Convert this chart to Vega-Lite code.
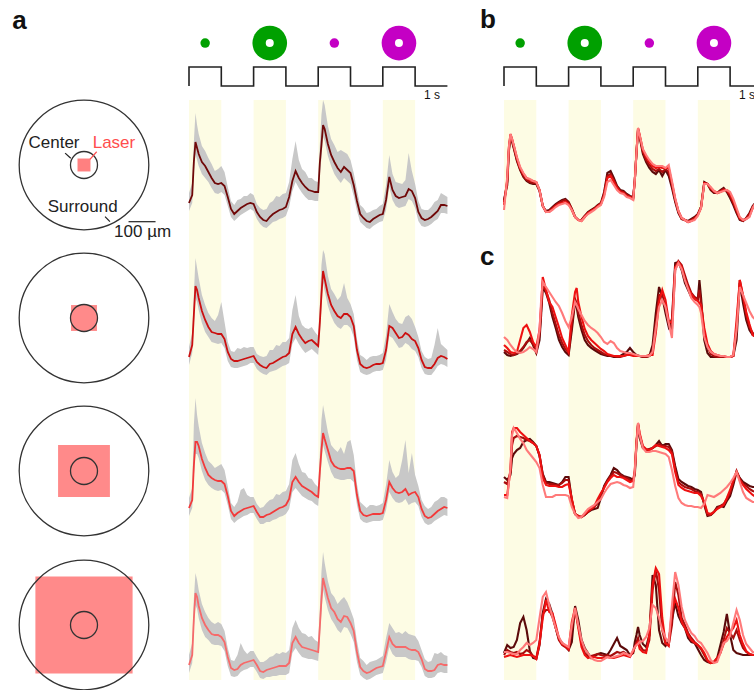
{
"$schema":"https://vega.github.io/schema/vega-lite/v6.json",
"padding":0,
"config":{"view":{"stroke":null},"axis":{"disable":true},"legend":{"disable":true},"font":"Liberation Sans"},
"datasets":{
"bands":[{"t":0,"t2":1},{"t":2,"t2":3},{"t":4,"t2":5},{"t":6,"t2":7}],
"step":[{"i":0,"t":0,"s":0},{"i":1,"t":0,"s":1},{"i":2,"t":1,"s":0},{"i":3,"t":2,"s":1},{"i":4,"t":3,"s":0},{"i":5,"t":4,"s":1},{"i":6,"t":5,"s":0},{"i":7,"t":6,"s":1},{"i":8,"t":7,"s":0},{"i":9,"t":8,"s":0}],
"icons":[{"t":0.5,"led":"Green","stim":"spot"},{"t":2.5,"led":"Green","stim":"annulus"},{"t":4.5,"led":"UV","stim":"spot"},{"t":6.5,"led":"UV","stim":"annulus"}],
"rings":[{"row":1,"part":"surround","um":480},{"row":1,"part":"center","um":100},{"row":2,"part":"surround","um":480},{"row":2,"part":"center","um":100},{"row":3,"part":"surround","um":480},{"row":3,"part":"center","um":100},{"row":4,"part":"surround","um":480},{"row":4,"part":"center","um":100}],
"laser":[{"row":1,"um":48},{"row":2,"um":96},{"row":3,"um":192},{"row":4,"um":360}],
"notes":[{"text":"Center","x":-111,"y":63,"kind":"label"},{"text":"Laser","x":111,"y":63,"kind":"laser"},{"text":"Surround","x":-5,"y":-173,"kind":"label"},{"text":"100 µm","x":217,"y":-268,"kind":"label"}],
"leaders":[{"x":-70,"y":44,"x2":-49,"y2":25,"kind":"label"},{"x":47,"y":49,"x2":22,"y2":21,"kind":"laser"},{"x":78,"y":-191,"x2":96,"y2":-210,"kind":"label"},{"x":165,"y":-210,"x2":265,"y2":-210,"kind":"label"}],
"pa":[
{"r":1,"t":0,"m":0.42,"lo":0.34,"hi":0.52},{"r":1,"t":0.1,"m":0.5,"lo":0.42,"hi":0.62},{"r":1,"t":0.15,"m":0.83,"lo":0.73,"hi":1.03},{"r":1,"t":0.2,"m":1.03,"lo":0.91,"hi":1.32},{"r":1,"t":0.25,"m":0.97,"lo":0.85,"hi":1.2},{"r":1,"t":0.3,"m":0.91,"lo":0.79,"hi":1.11},{"r":1,"t":0.4,"m":0.83,"lo":0.71,"hi":0.99},{"r":1,"t":0.5,"m":0.79,"lo":0.67,"hi":0.94},{"r":1,"t":0.6,"m":0.73,"lo":0.63,"hi":0.87},{"r":1,"t":0.7,"m":0.67,"lo":0.57,"hi":0.81},{"r":1,"t":0.8,"m":0.62,"lo":0.52,"hi":0.74},{"r":1,"t":0.9,"m":0.61,"lo":0.51,"hi":0.76},{"r":1,"t":1.0,"m":0.62,"lo":0.53,"hi":0.79},{"r":1,"t":1.1,"m":0.59,"lo":0.5,"hi":0.73},{"r":1,"t":1.2,"m":0.48,"lo":0.39,"hi":0.58},{"r":1,"t":1.3,"m":0.36,"lo":0.28,"hi":0.44},{"r":1,"t":1.4,"m":0.31,"lo":0.24,"hi":0.4},{"r":1,"t":1.5,"m":0.34,"lo":0.27,"hi":0.45},{"r":1,"t":1.6,"m":0.37,"lo":0.3,"hi":0.46},{"r":1,"t":1.7,"m":0.39,"lo":0.32,"hi":0.49},{"r":1,"t":1.8,"m":0.41,"lo":0.34,"hi":0.49},{"r":1,"t":1.9,"m":0.42,"lo":0.36,"hi":0.52},{"r":1,"t":2.0,"m":0.41,"lo":0.34,"hi":0.5},{"r":1,"t":2.1,"m":0.33,"lo":0.26,"hi":0.41},{"r":1,"t":2.2,"m":0.28,"lo":0.21,"hi":0.37},{"r":1,"t":2.3,"m":0.25,"lo":0.18,"hi":0.35},{"r":1,"t":2.4,"m":0.24,"lo":0.17,"hi":0.36},{"r":1,"t":2.5,"m":0.28,"lo":0.2,"hi":0.42},{"r":1,"t":2.6,"m":0.31,"lo":0.23,"hi":0.44},{"r":1,"t":2.7,"m":0.33,"lo":0.24,"hi":0.49},{"r":1,"t":2.8,"m":0.35,"lo":0.26,"hi":0.48},{"r":1,"t":2.9,"m":0.36,"lo":0.27,"hi":0.51},{"r":1,"t":3.0,"m":0.38,"lo":0.29,"hi":0.52},{"r":1,"t":3.1,"m":0.48,"lo":0.38,"hi":0.63},{"r":1,"t":3.2,"m":0.64,"lo":0.54,"hi":0.86},{"r":1,"t":3.3,"m":0.74,"lo":0.63,"hi":1.04},{"r":1,"t":3.4,"m":0.67,"lo":0.57,"hi":0.85},{"r":1,"t":3.5,"m":0.62,"lo":0.52,"hi":0.76},{"r":1,"t":3.6,"m":0.58,"lo":0.48,"hi":0.73},{"r":1,"t":3.7,"m":0.55,"lo":0.45,"hi":0.67},{"r":1,"t":3.8,"m":0.54,"lo":0.45,"hi":0.67},{"r":1,"t":3.9,"m":0.53,"lo":0.44,"hi":0.64},{"r":1,"t":4.0,"m":0.53,"lo":0.44,"hi":0.63},{"r":1,"t":4.05,"m":0.82,"lo":0.7,"hi":1.0},{"r":1,"t":4.1,"m":1.0,"lo":0.87,"hi":1.3},{"r":1,"t":4.15,"m":1.2,"lo":1.08,"hi":1.45},{"r":1,"t":4.2,"m":1.16,"lo":1.04,"hi":1.4},{"r":1,"t":4.3,"m":1.01,"lo":0.89,"hi":1.19},{"r":1,"t":4.4,"m":0.9,"lo":0.79,"hi":1.06},{"r":1,"t":4.5,"m":0.83,"lo":0.71,"hi":1.0},{"r":1,"t":4.6,"m":0.77,"lo":0.66,"hi":0.93},{"r":1,"t":4.7,"m":0.73,"lo":0.62,"hi":0.95},{"r":1,"t":4.8,"m":0.78,"lo":0.67,"hi":0.93},{"r":1,"t":4.9,"m":0.75,"lo":0.64,"hi":0.91},{"r":1,"t":5.0,"m":0.72,"lo":0.61,"hi":0.85},{"r":1,"t":5.1,"m":0.6,"lo":0.49,"hi":0.72},{"r":1,"t":5.2,"m":0.44,"lo":0.34,"hi":0.55},{"r":1,"t":5.3,"m":0.31,"lo":0.23,"hi":0.4},{"r":1,"t":5.4,"m":0.27,"lo":0.2,"hi":0.37},{"r":1,"t":5.5,"m":0.24,"lo":0.17,"hi":0.32},{"r":1,"t":5.6,"m":0.23,"lo":0.16,"hi":0.33},{"r":1,"t":5.7,"m":0.26,"lo":0.19,"hi":0.35},{"r":1,"t":5.8,"m":0.28,"lo":0.21,"hi":0.36},{"r":1,"t":5.9,"m":0.3,"lo":0.23,"hi":0.39},{"r":1,"t":6.0,"m":0.31,"lo":0.24,"hi":0.41},{"r":1,"t":6.1,"m":0.45,"lo":0.35,"hi":0.6},{"r":1,"t":6.2,"m":0.68,"lo":0.58,"hi":0.9},{"r":1,"t":6.3,"m":0.55,"lo":0.45,"hi":0.71},{"r":1,"t":6.4,"m":0.49,"lo":0.39,"hi":0.63},{"r":1,"t":6.5,"m":0.47,"lo":0.37,"hi":0.62},{"r":1,"t":6.6,"m":0.48,"lo":0.38,"hi":0.61},{"r":1,"t":6.7,"m":0.49,"lo":0.39,"hi":0.65},{"r":1,"t":6.8,"m":0.56,"lo":0.46,"hi":0.92},{"r":1,"t":6.9,"m":0.54,"lo":0.44,"hi":0.74},{"r":1,"t":7.0,"m":0.47,"lo":0.37,"hi":0.61},{"r":1,"t":7.1,"m":0.33,"lo":0.24,"hi":0.44},{"r":1,"t":7.2,"m":0.27,"lo":0.19,"hi":0.36},{"r":1,"t":7.3,"m":0.25,"lo":0.18,"hi":0.35},{"r":1,"t":7.4,"m":0.26,"lo":0.19,"hi":0.35},{"r":1,"t":7.5,"m":0.28,"lo":0.21,"hi":0.38},{"r":1,"t":7.6,"m":0.31,"lo":0.24,"hi":0.43},{"r":1,"t":7.7,"m":0.34,"lo":0.26,"hi":0.45},{"r":1,"t":7.8,"m":0.4,"lo":0.32,"hi":0.52},{"r":1,"t":7.9,"m":0.4,"lo":0.32,"hi":0.5},{"r":1,"t":8.0,"m":0.39,"lo":0.31,"hi":0.48},
{"r":2,"t":0,"m":0.33,"lo":0.25,"hi":0.43},{"r":2,"t":0.1,"m":0.45,"lo":0.37,"hi":0.57},{"r":2,"t":0.15,"m":0.75,"lo":0.65,"hi":0.95},{"r":2,"t":0.2,"m":1.04,"lo":0.92,"hi":1.32},{"r":2,"t":0.25,"m":1.0,"lo":0.88,"hi":1.22},{"r":2,"t":0.3,"m":0.92,"lo":0.8,"hi":1.12},{"r":2,"t":0.4,"m":0.79,"lo":0.67,"hi":0.95},{"r":2,"t":0.5,"m":0.7,"lo":0.58,"hi":0.85},{"r":2,"t":0.6,"m":0.63,"lo":0.53,"hi":0.77},{"r":2,"t":0.7,"m":0.58,"lo":0.48,"hi":0.72},{"r":2,"t":0.8,"m":0.57,"lo":0.47,"hi":0.69},{"r":2,"t":0.9,"m":0.56,"lo":0.46,"hi":0.75},{"r":2,"t":1.0,"m":0.56,"lo":0.47,"hi":0.88},{"r":2,"t":1.1,"m":0.51,"lo":0.42,"hi":0.68},{"r":2,"t":1.2,"m":0.38,"lo":0.29,"hi":0.48},{"r":2,"t":1.3,"m":0.31,"lo":0.23,"hi":0.39},{"r":2,"t":1.4,"m":0.29,"lo":0.22,"hi":0.38},{"r":2,"t":1.5,"m":0.29,"lo":0.22,"hi":0.42},{"r":2,"t":1.6,"m":0.3,"lo":0.23,"hi":0.41},{"r":2,"t":1.7,"m":0.31,"lo":0.24,"hi":0.43},{"r":2,"t":1.8,"m":0.32,"lo":0.25,"hi":0.42},{"r":2,"t":1.9,"m":0.33,"lo":0.27,"hi":0.43},{"r":2,"t":2.0,"m":0.34,"lo":0.27,"hi":0.43},{"r":2,"t":2.1,"m":0.28,"lo":0.21,"hi":0.36},{"r":2,"t":2.2,"m":0.25,"lo":0.18,"hi":0.34},{"r":2,"t":2.3,"m":0.23,"lo":0.16,"hi":0.33},{"r":2,"t":2.4,"m":0.22,"lo":0.15,"hi":0.34},{"r":2,"t":2.5,"m":0.26,"lo":0.18,"hi":0.4},{"r":2,"t":2.6,"m":0.27,"lo":0.19,"hi":0.4},{"r":2,"t":2.7,"m":0.29,"lo":0.2,"hi":0.45},{"r":2,"t":2.8,"m":0.31,"lo":0.22,"hi":0.44},{"r":2,"t":2.9,"m":0.33,"lo":0.24,"hi":0.48},{"r":2,"t":3.0,"m":0.34,"lo":0.25,"hi":0.48},{"r":2,"t":3.1,"m":0.37,"lo":0.27,"hi":0.52},{"r":2,"t":3.2,"m":0.56,"lo":0.46,"hi":0.8},{"r":2,"t":3.3,"m":0.63,"lo":0.52,"hi":0.95},{"r":2,"t":3.4,"m":0.56,"lo":0.46,"hi":0.74},{"r":2,"t":3.5,"m":0.51,"lo":0.41,"hi":0.65},{"r":2,"t":3.6,"m":0.47,"lo":0.37,"hi":0.62},{"r":2,"t":3.7,"m":0.49,"lo":0.39,"hi":0.61},{"r":2,"t":3.8,"m":0.5,"lo":0.41,"hi":0.63},{"r":2,"t":3.9,"m":0.47,"lo":0.38,"hi":0.58},{"r":2,"t":4.0,"m":0.44,"lo":0.35,"hi":0.54},{"r":2,"t":4.05,"m":0.67,"lo":0.55,"hi":0.85},{"r":2,"t":4.1,"m":0.95,"lo":0.82,"hi":1.25},{"r":2,"t":4.15,"m":1.19,"lo":1.07,"hi":1.4},{"r":2,"t":4.2,"m":1.11,"lo":0.99,"hi":1.36},{"r":2,"t":4.3,"m":0.96,"lo":0.84,"hi":1.14},{"r":2,"t":4.4,"m":0.85,"lo":0.74,"hi":1.01},{"r":2,"t":4.5,"m":0.79,"lo":0.67,"hi":0.96},{"r":2,"t":4.6,"m":0.74,"lo":0.63,"hi":0.9},{"r":2,"t":4.7,"m":0.72,"lo":0.61,"hi":0.94},{"r":2,"t":4.8,"m":0.76,"lo":0.65,"hi":1.07},{"r":2,"t":4.9,"m":0.76,"lo":0.65,"hi":0.92},{"r":2,"t":5.0,"m":0.73,"lo":0.62,"hi":0.86},{"r":2,"t":5.1,"m":0.64,"lo":0.53,"hi":0.76},{"r":2,"t":5.2,"m":0.4,"lo":0.3,"hi":0.51},{"r":2,"t":5.3,"m":0.26,"lo":0.18,"hi":0.35},{"r":2,"t":5.4,"m":0.23,"lo":0.16,"hi":0.33},{"r":2,"t":5.5,"m":0.22,"lo":0.15,"hi":0.3},{"r":2,"t":5.6,"m":0.23,"lo":0.16,"hi":0.33},{"r":2,"t":5.7,"m":0.25,"lo":0.18,"hi":0.34},{"r":2,"t":5.8,"m":0.26,"lo":0.19,"hi":0.34},{"r":2,"t":5.9,"m":0.26,"lo":0.19,"hi":0.35},{"r":2,"t":6.0,"m":0.27,"lo":0.2,"hi":0.37},{"r":2,"t":6.1,"m":0.4,"lo":0.3,"hi":0.55},{"r":2,"t":6.2,"m":0.64,"lo":0.54,"hi":0.86},{"r":2,"t":6.3,"m":0.62,"lo":0.52,"hi":0.78},{"r":2,"t":6.4,"m":0.57,"lo":0.47,"hi":0.71},{"r":2,"t":6.5,"m":0.52,"lo":0.42,"hi":0.67},{"r":2,"t":6.6,"m":0.53,"lo":0.43,"hi":0.66},{"r":2,"t":6.7,"m":0.57,"lo":0.47,"hi":0.73},{"r":2,"t":6.8,"m":0.55,"lo":0.45,"hi":0.75},{"r":2,"t":6.9,"m":0.51,"lo":0.41,"hi":0.71},{"r":2,"t":7.0,"m":0.49,"lo":0.39,"hi":0.63},{"r":2,"t":7.1,"m":0.42,"lo":0.33,"hi":0.53},{"r":2,"t":7.2,"m":0.3,"lo":0.22,"hi":0.39},{"r":2,"t":7.3,"m":0.23,"lo":0.16,"hi":0.33},{"r":2,"t":7.4,"m":0.22,"lo":0.15,"hi":0.31},{"r":2,"t":7.5,"m":0.22,"lo":0.15,"hi":0.32},{"r":2,"t":7.6,"m":0.26,"lo":0.19,"hi":0.45},{"r":2,"t":7.7,"m":0.32,"lo":0.24,"hi":0.62},{"r":2,"t":7.8,"m":0.34,"lo":0.26,"hi":0.46},{"r":2,"t":7.9,"m":0.33,"lo":0.25,"hi":0.43},{"r":2,"t":8.0,"m":0.31,"lo":0.23,"hi":0.4},
{"r":3,"t":0,"m":0.27,"lo":0.19,"hi":0.37},{"r":3,"t":0.1,"m":0.35,"lo":0.27,"hi":0.47},{"r":3,"t":0.15,"m":0.69,"lo":0.59,"hi":1.1},{"r":3,"t":0.2,"m":0.93,"lo":0.81,"hi":1.37},{"r":3,"t":0.25,"m":0.93,"lo":0.81,"hi":1.2},{"r":3,"t":0.3,"m":0.89,"lo":0.77,"hi":1.09},{"r":3,"t":0.4,"m":0.76,"lo":0.64,"hi":0.92},{"r":3,"t":0.5,"m":0.67,"lo":0.55,"hi":0.82},{"r":3,"t":0.6,"m":0.6,"lo":0.5,"hi":0.74},{"r":3,"t":0.7,"m":0.57,"lo":0.47,"hi":0.71},{"r":3,"t":0.8,"m":0.55,"lo":0.45,"hi":0.67},{"r":3,"t":0.9,"m":0.54,"lo":0.44,"hi":0.69},{"r":3,"t":1.0,"m":0.54,"lo":0.45,"hi":0.71},{"r":3,"t":1.1,"m":0.51,"lo":0.42,"hi":0.65},{"r":3,"t":1.2,"m":0.39,"lo":0.3,"hi":0.49},{"r":3,"t":1.3,"m":0.24,"lo":0.16,"hi":0.32},{"r":3,"t":1.4,"m":0.19,"lo":0.12,"hi":0.28},{"r":3,"t":1.5,"m":0.22,"lo":0.15,"hi":0.33},{"r":3,"t":1.6,"m":0.24,"lo":0.17,"hi":0.45},{"r":3,"t":1.7,"m":0.26,"lo":0.19,"hi":0.47},{"r":3,"t":1.8,"m":0.27,"lo":0.2,"hi":0.4},{"r":3,"t":1.9,"m":0.28,"lo":0.22,"hi":0.38},{"r":3,"t":2.0,"m":0.29,"lo":0.22,"hi":0.38},{"r":3,"t":2.1,"m":0.23,"lo":0.16,"hi":0.31},{"r":3,"t":2.2,"m":0.18,"lo":0.11,"hi":0.27},{"r":3,"t":2.3,"m":0.18,"lo":0.11,"hi":0.28},{"r":3,"t":2.4,"m":0.2,"lo":0.13,"hi":0.32},{"r":3,"t":2.5,"m":0.21,"lo":0.13,"hi":0.35},{"r":3,"t":2.6,"m":0.23,"lo":0.15,"hi":0.36},{"r":3,"t":2.7,"m":0.25,"lo":0.16,"hi":0.41},{"r":3,"t":2.8,"m":0.27,"lo":0.18,"hi":0.4},{"r":3,"t":2.9,"m":0.28,"lo":0.19,"hi":0.43},{"r":3,"t":3.0,"m":0.3,"lo":0.21,"hi":0.44},{"r":3,"t":3.1,"m":0.36,"lo":0.26,"hi":0.51},{"r":3,"t":3.2,"m":0.53,"lo":0.43,"hi":0.75},{"r":3,"t":3.3,"m":0.58,"lo":0.47,"hi":0.82},{"r":3,"t":3.4,"m":0.53,"lo":0.43,"hi":0.71},{"r":3,"t":3.5,"m":0.49,"lo":0.39,"hi":0.63},{"r":3,"t":3.6,"m":0.47,"lo":0.37,"hi":0.62},{"r":3,"t":3.7,"m":0.45,"lo":0.35,"hi":0.57},{"r":3,"t":3.8,"m":0.43,"lo":0.34,"hi":0.56},{"r":3,"t":3.9,"m":0.4,"lo":0.31,"hi":0.51},{"r":3,"t":4.0,"m":0.38,"lo":0.29,"hi":0.48},{"r":3,"t":4.05,"m":0.63,"lo":0.51,"hi":0.81},{"r":3,"t":4.1,"m":0.85,"lo":0.72,"hi":1.15},{"r":3,"t":4.15,"m":1.02,"lo":0.9,"hi":1.3},{"r":3,"t":4.2,"m":0.96,"lo":0.84,"hi":1.21},{"r":3,"t":4.3,"m":0.85,"lo":0.73,"hi":1.03},{"r":3,"t":4.4,"m":0.74,"lo":0.63,"hi":0.9},{"r":3,"t":4.5,"m":0.69,"lo":0.57,"hi":0.86},{"r":3,"t":4.6,"m":0.67,"lo":0.56,"hi":0.83},{"r":3,"t":4.7,"m":0.66,"lo":0.55,"hi":0.88},{"r":3,"t":4.8,"m":0.66,"lo":0.55,"hi":0.81},{"r":3,"t":4.9,"m":0.67,"lo":0.56,"hi":0.93},{"r":3,"t":5.0,"m":0.67,"lo":0.56,"hi":0.95},{"r":3,"t":5.1,"m":0.64,"lo":0.53,"hi":0.8},{"r":3,"t":5.2,"m":0.4,"lo":0.3,"hi":0.51},{"r":3,"t":5.3,"m":0.24,"lo":0.16,"hi":0.33},{"r":3,"t":5.4,"m":0.2,"lo":0.13,"hi":0.3},{"r":3,"t":5.5,"m":0.19,"lo":0.12,"hi":0.27},{"r":3,"t":5.6,"m":0.2,"lo":0.13,"hi":0.3},{"r":3,"t":5.7,"m":0.21,"lo":0.14,"hi":0.3},{"r":3,"t":5.8,"m":0.21,"lo":0.14,"hi":0.29},{"r":3,"t":5.9,"m":0.21,"lo":0.14,"hi":0.3},{"r":3,"t":6.0,"m":0.22,"lo":0.15,"hi":0.32},{"r":3,"t":6.1,"m":0.35,"lo":0.25,"hi":0.5},{"r":3,"t":6.2,"m":0.53,"lo":0.43,"hi":0.75},{"r":3,"t":6.3,"m":0.47,"lo":0.37,"hi":0.63},{"r":3,"t":6.4,"m":0.43,"lo":0.33,"hi":0.57},{"r":3,"t":6.5,"m":0.42,"lo":0.32,"hi":0.6},{"r":3,"t":6.6,"m":0.43,"lo":0.33,"hi":0.75},{"r":3,"t":6.7,"m":0.46,"lo":0.36,"hi":0.95},{"r":3,"t":6.8,"m":0.4,"lo":0.3,"hi":0.62},{"r":3,"t":6.9,"m":0.42,"lo":0.32,"hi":0.82},{"r":3,"t":7.0,"m":0.43,"lo":0.33,"hi":0.6},{"r":3,"t":7.1,"m":0.38,"lo":0.29,"hi":0.49},{"r":3,"t":7.2,"m":0.26,"lo":0.18,"hi":0.35},{"r":3,"t":7.3,"m":0.19,"lo":0.12,"hi":0.29},{"r":3,"t":7.4,"m":0.17,"lo":0.1,"hi":0.26},{"r":3,"t":7.5,"m":0.18,"lo":0.11,"hi":0.28},{"r":3,"t":7.6,"m":0.21,"lo":0.14,"hi":0.33},{"r":3,"t":7.7,"m":0.24,"lo":0.16,"hi":0.35},{"r":3,"t":7.8,"m":0.26,"lo":0.18,"hi":0.38},{"r":3,"t":7.9,"m":0.28,"lo":0.2,"hi":0.38},{"r":3,"t":8.0,"m":0.27,"lo":0.19,"hi":0.36},
{"r":4,"t":0,"m":0.15,"lo":0.07,"hi":0.25},{"r":4,"t":0.1,"m":0.25,"lo":0.17,"hi":0.37},{"r":4,"t":0.15,"m":0.61,"lo":0.51,"hi":0.81},{"r":4,"t":0.2,"m":0.87,"lo":0.75,"hi":1.07},{"r":4,"t":0.25,"m":0.83,"lo":0.71,"hi":1.0},{"r":4,"t":0.3,"m":0.74,"lo":0.62,"hi":0.9},{"r":4,"t":0.4,"m":0.62,"lo":0.5,"hi":0.76},{"r":4,"t":0.5,"m":0.55,"lo":0.43,"hi":0.68},{"r":4,"t":0.6,"m":0.5,"lo":0.4,"hi":0.62},{"r":4,"t":0.7,"m":0.46,"lo":0.36,"hi":0.58},{"r":4,"t":0.8,"m":0.45,"lo":0.35,"hi":0.56},{"r":4,"t":0.9,"m":0.45,"lo":0.35,"hi":0.58},{"r":4,"t":1.0,"m":0.43,"lo":0.34,"hi":0.56},{"r":4,"t":1.1,"m":0.38,"lo":0.29,"hi":0.49},{"r":4,"t":1.2,"m":0.23,"lo":0.14,"hi":0.32},{"r":4,"t":1.3,"m":0.12,"lo":0.04,"hi":0.2},{"r":4,"t":1.4,"m":0.1,"lo":0.03,"hi":0.19},{"r":4,"t":1.5,"m":0.11,"lo":0.04,"hi":0.25},{"r":4,"t":1.6,"m":0.15,"lo":0.08,"hi":0.37},{"r":4,"t":1.7,"m":0.17,"lo":0.1,"hi":0.3},{"r":4,"t":1.8,"m":0.18,"lo":0.11,"hi":0.26},{"r":4,"t":1.9,"m":0.19,"lo":0.13,"hi":0.29},{"r":4,"t":2.0,"m":0.2,"lo":0.13,"hi":0.29},{"r":4,"t":2.1,"m":0.15,"lo":0.08,"hi":0.23},{"r":4,"t":2.2,"m":0.09,"lo":0.02,"hi":0.18},{"r":4,"t":2.3,"m":0.08,"lo":0.01,"hi":0.18},{"r":4,"t":2.4,"m":0.1,"lo":0.03,"hi":0.2},{"r":4,"t":2.5,"m":0.11,"lo":0.03,"hi":0.23},{"r":4,"t":2.6,"m":0.12,"lo":0.04,"hi":0.24},{"r":4,"t":2.7,"m":0.13,"lo":0.04,"hi":0.27},{"r":4,"t":2.8,"m":0.14,"lo":0.05,"hi":0.26},{"r":4,"t":2.9,"m":0.14,"lo":0.05,"hi":0.28},{"r":4,"t":3.0,"m":0.14,"lo":0.05,"hi":0.27},{"r":4,"t":3.1,"m":0.17,"lo":0.07,"hi":0.3},{"r":4,"t":3.2,"m":0.37,"lo":0.27,"hi":0.52},{"r":4,"t":3.3,"m":0.43,"lo":0.32,"hi":0.6},{"r":4,"t":3.4,"m":0.37,"lo":0.27,"hi":0.52},{"r":4,"t":3.5,"m":0.33,"lo":0.23,"hi":0.47},{"r":4,"t":3.6,"m":0.32,"lo":0.22,"hi":0.46},{"r":4,"t":3.7,"m":0.31,"lo":0.21,"hi":0.43},{"r":4,"t":3.8,"m":0.3,"lo":0.21,"hi":0.44},{"r":4,"t":3.9,"m":0.29,"lo":0.2,"hi":0.4},{"r":4,"t":4.0,"m":0.28,"lo":0.19,"hi":0.38},{"r":4,"t":4.05,"m":0.53,"lo":0.41,"hi":0.71},{"r":4,"t":4.1,"m":0.8,"lo":0.67,"hi":1.08},{"r":4,"t":4.15,"m":1.02,"lo":0.9,"hi":1.28},{"r":4,"t":4.2,"m":0.95,"lo":0.83,"hi":1.17},{"r":4,"t":4.3,"m":0.82,"lo":0.7,"hi":0.99},{"r":4,"t":4.4,"m":0.72,"lo":0.61,"hi":0.87},{"r":4,"t":4.5,"m":0.68,"lo":0.56,"hi":0.83},{"r":4,"t":4.6,"m":0.61,"lo":0.5,"hi":0.76},{"r":4,"t":4.7,"m":0.58,"lo":0.47,"hi":0.8},{"r":4,"t":4.8,"m":0.64,"lo":0.53,"hi":0.83},{"r":4,"t":4.9,"m":0.63,"lo":0.52,"hi":0.78},{"r":4,"t":5.0,"m":0.57,"lo":0.46,"hi":0.7},{"r":4,"t":5.1,"m":0.49,"lo":0.38,"hi":0.61},{"r":4,"t":5.2,"m":0.28,"lo":0.18,"hi":0.39},{"r":4,"t":5.3,"m":0.13,"lo":0.05,"hi":0.22},{"r":4,"t":5.4,"m":0.09,"lo":0.02,"hi":0.19},{"r":4,"t":5.5,"m":0.07,"lo":0.0,"hi":0.15},{"r":4,"t":5.6,"m":0.08,"lo":0.01,"hi":0.18},{"r":4,"t":5.7,"m":0.1,"lo":0.03,"hi":0.19},{"r":4,"t":5.8,"m":0.12,"lo":0.05,"hi":0.2},{"r":4,"t":5.9,"m":0.13,"lo":0.06,"hi":0.22},{"r":4,"t":6.0,"m":0.14,"lo":0.07,"hi":0.24},{"r":4,"t":6.1,"m":0.28,"lo":0.18,"hi":0.42},{"r":4,"t":6.2,"m":0.43,"lo":0.33,"hi":0.57},{"r":4,"t":6.3,"m":0.36,"lo":0.26,"hi":0.52},{"r":4,"t":6.4,"m":0.33,"lo":0.23,"hi":0.47},{"r":4,"t":6.5,"m":0.33,"lo":0.23,"hi":0.48},{"r":4,"t":6.6,"m":0.33,"lo":0.23,"hi":0.46},{"r":4,"t":6.7,"m":0.33,"lo":0.23,"hi":0.49},{"r":4,"t":6.8,"m":0.31,"lo":0.21,"hi":0.46},{"r":4,"t":6.9,"m":0.3,"lo":0.2,"hi":0.45},{"r":4,"t":7.0,"m":0.3,"lo":0.2,"hi":0.44},{"r":4,"t":7.1,"m":0.28,"lo":0.19,"hi":0.39},{"r":4,"t":7.2,"m":0.21,"lo":0.13,"hi":0.3},{"r":4,"t":7.3,"m":0.11,"lo":0.04,"hi":0.21},{"r":4,"t":7.4,"m":0.09,"lo":0.02,"hi":0.18},{"r":4,"t":7.5,"m":0.09,"lo":0.02,"hi":0.19},{"r":4,"t":7.6,"m":0.1,"lo":0.03,"hi":0.27},{"r":4,"t":7.7,"m":0.15,"lo":0.07,"hi":0.26},{"r":4,"t":7.8,"m":0.16,"lo":0.08,"hi":0.28},{"r":4,"t":7.9,"m":0.15,"lo":0.07,"hi":0.25},{"r":4,"t":8.0,"m":0.15,"lo":0.07,"hi":0.24}
],
"pb":[
{"t":0,"rep1":0.4,"rep2":0.38,"rep3":0.35,"rep4":0.3},{"t":0.1,"rep1":0.55,"rep2":0.58,"rep3":0.6,"rep4":0.63},{"t":0.15,"rep1":0.88,"rep2":0.9,"rep3":0.92,"rep4":0.93},{"t":0.2,"rep1":1.04,"rep2":1.05,"rep3":1.06,"rep4":1.06},{"t":0.25,"rep1":0.98,"rep2":1.0,"rep3":1.01,"rep4":1.01},{"t":0.3,"rep1":0.92,"rep2":0.93,"rep3":0.95,"rep4":0.95},{"t":0.4,"rep1":0.79,"rep2":0.8,"rep3":0.82,"rep4":0.83},{"t":0.5,"rep1":0.7,"rep2":0.71,"rep3":0.72,"rep4":0.73},{"t":0.6,"rep1":0.63,"rep2":0.64,"rep3":0.66,"rep4":0.67},{"t":0.7,"rep1":0.59,"rep2":0.6,"rep3":0.62,"rep4":0.62},{"t":0.8,"rep1":0.57,"rep2":0.58,"rep3":0.6,"rep4":0.61},{"t":0.9,"rep1":0.56,"rep2":0.57,"rep3":0.59,"rep4":0.59},{"t":1.0,"rep1":0.56,"rep2":0.57,"rep3":0.58,"rep4":0.58},{"t":1.1,"rep1":0.49,"rep2":0.5,"rep3":0.5,"rep4":0.5},{"t":1.2,"rep1":0.34,"rep2":0.34,"rep3":0.34,"rep4":0.34},{"t":1.3,"rep1":0.29,"rep2":0.28,"rep3":0.28,"rep4":0.28},{"t":1.4,"rep1":0.3,"rep2":0.29,"rep3":0.28,"rep4":0.28},{"t":1.5,"rep1":0.33,"rep2":0.32,"rep3":0.31,"rep4":0.3},{"t":1.6,"rep1":0.36,"rep2":0.35,"rep3":0.34,"rep4":0.33},{"t":1.7,"rep1":0.38,"rep2":0.37,"rep3":0.36,"rep4":0.35},{"t":1.8,"rep1":0.4,"rep2":0.39,"rep3":0.37,"rep4":0.36},{"t":1.9,"rep1":0.41,"rep2":0.4,"rep3":0.38,"rep4":0.37},{"t":2.0,"rep1":0.38,"rep2":0.37,"rep3":0.36,"rep4":0.35},{"t":2.1,"rep1":0.31,"rep2":0.31,"rep3":0.3,"rep4":0.3},{"t":2.2,"rep1":0.23,"rep2":0.23,"rep3":0.23,"rep4":0.23},{"t":2.3,"rep1":0.2,"rep2":0.2,"rep3":0.2,"rep4":0.2},{"t":2.4,"rep1":0.2,"rep2":0.2,"rep3":0.19,"rep4":0.19},{"t":2.5,"rep1":0.24,"rep2":0.24,"rep3":0.23,"rep4":0.23},{"t":2.6,"rep1":0.28,"rep2":0.27,"rep3":0.27,"rep4":0.26},{"t":2.7,"rep1":0.3,"rep2":0.29,"rep3":0.29,"rep4":0.28},{"t":2.8,"rep1":0.32,"rep2":0.31,"rep3":0.31,"rep4":0.3},{"t":2.9,"rep1":0.35,"rep2":0.34,"rep3":0.34,"rep4":0.33},{"t":3.0,"rep1":0.37,"rep2":0.36,"rep3":0.36,"rep4":0.35},{"t":3.1,"rep1":0.48,"rep2":0.46,"rep3":0.45,"rep4":0.43},{"t":3.2,"rep1":0.67,"rep2":0.64,"rep3":0.62,"rep4":0.58},{"t":3.3,"rep1":0.69,"rep2":0.66,"rep3":0.64,"rep4":0.6},{"t":3.4,"rep1":0.62,"rep2":0.6,"rep3":0.58,"rep4":0.55},{"t":3.5,"rep1":0.54,"rep2":0.53,"rep3":0.52,"rep4":0.5},{"t":3.6,"rep1":0.5,"rep2":0.49,"rep3":0.48,"rep4":0.47},{"t":3.7,"rep1":0.49,"rep2":0.48,"rep3":0.47,"rep4":0.46},{"t":3.8,"rep1":0.46,"rep2":0.45,"rep3":0.44,"rep4":0.43},{"t":3.9,"rep1":0.44,"rep2":0.43,"rep3":0.43,"rep4":0.42},{"t":4.0,"rep1":0.43,"rep2":0.42,"rep3":0.41,"rep4":0.4},{"t":4.05,"rep1":0.6,"rep2":0.6,"rep3":0.6,"rep4":0.6},{"t":4.1,"rep1":0.86,"rep2":0.87,"rep3":0.87,"rep4":0.87},{"t":4.15,"rep1":1.1,"rep2":1.11,"rep3":1.12,"rep4":1.12},{"t":4.2,"rep1":1.03,"rep2":1.04,"rep3":1.05,"rep4":1.05},{"t":4.3,"rep1":0.86,"rep2":0.88,"rep3":0.9,"rep4":0.91},{"t":4.4,"rep1":0.78,"rep2":0.8,"rep3":0.83,"rep4":0.85},{"t":4.5,"rep1":0.72,"rep2":0.75,"rep3":0.78,"rep4":0.8},{"t":4.6,"rep1":0.68,"rep2":0.71,"rep3":0.74,"rep4":0.76},{"t":4.7,"rep1":0.66,"rep2":0.69,"rep3":0.72,"rep4":0.74},{"t":4.8,"rep1":0.7,"rep2":0.71,"rep3":0.73,"rep4":0.74},{"t":4.9,"rep1":0.64,"rep2":0.68,"rep3":0.72,"rep4":0.74},{"t":5.0,"rep1":0.7,"rep2":0.71,"rep3":0.72,"rep4":0.72},{"t":5.1,"rep1":0.64,"rep2":0.68,"rep3":0.72,"rep4":0.75},{"t":5.2,"rep1":0.52,"rep2":0.55,"rep3":0.57,"rep4":0.59},{"t":5.3,"rep1":0.38,"rep2":0.4,"rep3":0.41,"rep4":0.42},{"t":5.4,"rep1":0.27,"rep2":0.28,"rep3":0.29,"rep4":0.29},{"t":5.5,"rep1":0.21,"rep2":0.21,"rep3":0.22,"rep4":0.22},{"t":5.6,"rep1":0.2,"rep2":0.2,"rep3":0.2,"rep4":0.2},{"t":5.7,"rep1":0.19,"rep2":0.18,"rep3":0.18,"rep4":0.18},{"t":5.8,"rep1":0.21,"rep2":0.2,"rep3":0.19,"rep4":0.19},{"t":5.9,"rep1":0.23,"rep2":0.22,"rep3":0.21,"rep4":0.2},{"t":6.0,"rep1":0.26,"rep2":0.25,"rep3":0.25,"rep4":0.24},{"t":6.1,"rep1":0.33,"rep2":0.33,"rep3":0.32,"rep4":0.32},{"t":6.2,"rep1":0.58,"rep2":0.57,"rep3":0.57,"rep4":0.56},{"t":6.3,"rep1":0.56,"rep2":0.56,"rep3":0.56,"rep4":0.56},{"t":6.4,"rep1":0.5,"rep2":0.51,"rep3":0.52,"rep4":0.53},{"t":6.5,"rep1":0.47,"rep2":0.48,"rep3":0.49,"rep4":0.49},{"t":6.6,"rep1":0.47,"rep2":0.47,"rep3":0.47,"rep4":0.47},{"t":6.7,"rep1":0.5,"rep2":0.49,"rep3":0.48,"rep4":0.48},{"t":6.8,"rep1":0.52,"rep2":0.51,"rep3":0.5,"rep4":0.49},{"t":6.9,"rep1":0.48,"rep2":0.49,"rep3":0.5,"rep4":0.5},{"t":7.0,"rep1":0.42,"rep2":0.44,"rep3":0.46,"rep4":0.48},{"t":7.1,"rep1":0.35,"rep2":0.37,"rep3":0.39,"rep4":0.41},{"t":7.2,"rep1":0.27,"rep2":0.29,"rep3":0.3,"rep4":0.32},{"t":7.3,"rep1":0.2,"rep2":0.21,"rep3":0.22,"rep4":0.23},{"t":7.4,"rep1":0.19,"rep2":0.19,"rep3":0.2,"rep4":0.2},{"t":7.5,"rep1":0.22,"rep2":0.22,"rep3":0.21,"rep4":0.21},{"t":7.6,"rep1":0.27,"rep2":0.26,"rep3":0.24,"rep4":0.23},{"t":7.7,"rep1":0.34,"rep2":0.33,"rep3":0.32,"rep4":0.32},{"t":7.8,"rep1":0.38,"rep2":0.37,"rep3":0.37,"rep4":0.38},{"t":7.9,"rep1":0.4,"rep2":0.4,"rep3":0.4,"rep4":0.4}
],
"pc":[
{"p":"c1","t":0,"rep1":0.33,"rep2":0.35,"rep3":0.4,"rep4":0.48},{"p":"c1","t":0.1,"rep1":0.3,"rep2":0.33,"rep3":0.37,"rep4":0.45},{"p":"c1","t":0.2,"rep1":0.29,"rep2":0.31,"rep3":0.33,"rep4":0.4},{"p":"c1","t":0.3,"rep1":0.3,"rep2":0.3,"rep3":0.32,"rep4":0.36},{"p":"c1","t":0.4,"rep1":0.31,"rep2":0.32,"rep3":0.33,"rep4":0.33},{"p":"c1","t":0.5,"rep1":0.33,"rep2":0.34,"rep3":0.45,"rep4":0.32},{"p":"c1","t":0.6,"rep1":0.37,"rep2":0.38,"rep3":0.57,"rep4":0.33},{"p":"c1","t":0.7,"rep1":0.42,"rep2":0.43,"rep3":0.6,"rep4":0.35},{"p":"c1","t":0.8,"rep1":0.47,"rep2":0.45,"rep3":0.53,"rep4":0.38},{"p":"c1","t":0.9,"rep1":0.4,"rep2":0.41,"rep3":0.43,"rep4":0.36},{"p":"c1","t":1.0,"rep1":0.32,"rep2":0.33,"rep3":0.38,"rep4":0.33},{"p":"c1","t":1.1,"rep1":0.45,"rep2":0.5,"rep3":0.55,"rep4":0.55},{"p":"c1","t":1.15,"rep1":0.7,"rep2":0.75,"rep3":0.8,"rep4":0.85},{"p":"c1","t":1.2,"rep1":0.98,"rep2":1.0,"rep3":1.08,"rep4":1.03},{"p":"c1","t":1.3,"rep1":0.92,"rep2":0.94,"rep3":0.95,"rep4":0.98},{"p":"c1","t":1.4,"rep1":0.82,"rep2":0.85,"rep3":0.83,"rep4":0.93},{"p":"c1","t":1.5,"rep1":0.68,"rep2":0.72,"rep3":0.78,"rep4":0.88},{"p":"c1","t":1.6,"rep1":0.57,"rep2":0.61,"rep3":0.68,"rep4":0.83},{"p":"c1","t":1.7,"rep1":0.45,"rep2":0.5,"rep3":0.58,"rep4":0.79},{"p":"c1","t":1.8,"rep1":0.38,"rep2":0.42,"rep3":0.47,"rep4":0.72},{"p":"c1","t":1.9,"rep1":0.33,"rep2":0.36,"rep3":0.4,"rep4":0.64},{"p":"c1","t":2.0,"rep1":0.3,"rep2":0.32,"rep3":0.33,"rep4":0.58},{"p":"c1","t":2.1,"rep1":0.55,"rep2":0.6,"rep3":0.7,"rep4":0.68},{"p":"c1","t":2.2,"rep1":0.83,"rep2":0.86,"rep3":0.93,"rep4":0.83},{"p":"c1","t":2.25,"rep1":0.78,"rep2":0.82,"rep3":0.97,"rep4":0.8},{"p":"c1","t":2.3,"rep1":0.68,"rep2":0.72,"rep3":0.83,"rep4":0.76},{"p":"c1","t":2.4,"rep1":0.55,"rep2":0.6,"rep3":0.68,"rep4":0.7},{"p":"c1","t":2.5,"rep1":0.45,"rep2":0.5,"rep3":0.56,"rep4":0.64},{"p":"c1","t":2.6,"rep1":0.4,"rep2":0.44,"rep3":0.49,"rep4":0.6},{"p":"c1","t":2.7,"rep1":0.37,"rep2":0.4,"rep3":0.45,"rep4":0.57},{"p":"c1","t":2.8,"rep1":0.35,"rep2":0.37,"rep3":0.42,"rep4":0.55},{"p":"c1","t":2.9,"rep1":0.33,"rep2":0.35,"rep3":0.39,"rep4":0.52},{"p":"c1","t":3.0,"rep1":0.31,"rep2":0.33,"rep3":0.36,"rep4":0.48},{"p":"c1","t":3.1,"rep1":0.3,"rep2":0.31,"rep3":0.34,"rep4":0.43},{"p":"c1","t":3.2,"rep1":0.29,"rep2":0.3,"rep3":0.31,"rep4":0.41},{"p":"c1","t":3.3,"rep1":0.29,"rep2":0.29,"rep3":0.3,"rep4":0.44},{"p":"c1","t":3.4,"rep1":0.28,"rep2":0.29,"rep3":0.29,"rep4":0.42},{"p":"c1","t":3.5,"rep1":0.28,"rep2":0.28,"rep3":0.29,"rep4":0.37},{"p":"c1","t":3.6,"rep1":0.29,"rep2":0.28,"rep3":0.29,"rep4":0.34},{"p":"c1","t":3.7,"rep1":0.31,"rep2":0.29,"rep3":0.29,"rep4":0.33},{"p":"c1","t":3.8,"rep1":0.33,"rep2":0.3,"rep3":0.3,"rep4":0.32},{"p":"c1","t":3.9,"rep1":0.37,"rep2":0.31,"rep3":0.3,"rep4":0.32},{"p":"c1","t":4.0,"rep1":0.33,"rep2":0.3,"rep3":0.29,"rep4":0.31},{"p":"c1","t":4.1,"rep1":0.3,"rep2":0.29,"rep3":0.29,"rep4":0.3},{"p":"c1","t":4.2,"rep1":0.29,"rep2":0.29,"rep3":0.29,"rep4":0.29},{"p":"c1","t":4.3,"rep1":0.28,"rep2":0.28,"rep3":0.29,"rep4":0.29},{"p":"c1","t":4.4,"rep1":0.28,"rep2":0.28,"rep3":0.29,"rep4":0.29},{"p":"c1","t":4.5,"rep1":0.29,"rep2":0.29,"rep3":0.3,"rep4":0.29},{"p":"c1","t":4.6,"rep1":0.4,"rep2":0.34,"rep3":0.3,"rep4":0.33},{"p":"c1","t":4.7,"rep1":0.72,"rep2":0.62,"rep3":0.52,"rep4":0.57},{"p":"c1","t":4.8,"rep1":0.98,"rep2":0.9,"rep3":0.83,"rep4":0.78},{"p":"c1","t":4.9,"rep1":0.88,"rep2":0.9,"rep3":0.95,"rep4":0.85},{"p":"c1","t":5.0,"rep1":0.72,"rep2":0.78,"rep3":0.85,"rep4":0.78},{"p":"c1","t":5.1,"rep1":0.58,"rep2":0.62,"rep3":0.64,"rep4":0.62},{"p":"c1","t":5.2,"rep1":0.66,"rep2":0.55,"rep3":0.62,"rep4":0.47},{"p":"c1","t":5.3,"rep1":1.22,"rep2":1.15,"rep3":1.18,"rep4":1.15},{"p":"c1","t":5.4,"rep1":1.23,"rep2":1.24,"rep3":1.23,"rep4":1.22},{"p":"c1","t":5.5,"rep1":1.15,"rep2":1.2,"rep3":1.18,"rep4":1.16},{"p":"c1","t":5.6,"rep1":1.02,"rep2":1.1,"rep3":1.06,"rep4":1.05},{"p":"c1","t":5.7,"rep1":0.95,"rep2":1.0,"rep3":0.97,"rep4":0.96},{"p":"c1","t":5.8,"rep1":0.88,"rep2":0.92,"rep3":0.91,"rep4":0.87},{"p":"c1","t":5.9,"rep1":0.86,"rep2":0.88,"rep3":0.86,"rep4":0.83},{"p":"c1","t":6.0,"rep1":0.85,"rep2":0.86,"rep3":0.84,"rep4":0.8},{"p":"c1","t":6.05,"rep1":1.05,"rep2":0.95,"rep3":0.82,"rep4":0.78},{"p":"c1","t":6.1,"rep1":0.88,"rep2":0.82,"rep3":0.8,"rep4":0.72},{"p":"c1","t":6.2,"rep1":0.45,"rep2":0.52,"rep3":0.57,"rep4":0.48},{"p":"c1","t":6.3,"rep1":0.32,"rep2":0.38,"rep3":0.41,"rep4":0.38},{"p":"c1","t":6.4,"rep1":0.28,"rep2":0.31,"rep3":0.34,"rep4":0.33},{"p":"c1","t":6.5,"rep1":0.28,"rep2":0.29,"rep3":0.31,"rep4":0.31},{"p":"c1","t":6.6,"rep1":0.28,"rep2":0.28,"rep3":0.3,"rep4":0.3},{"p":"c1","t":6.7,"rep1":0.28,"rep2":0.28,"rep3":0.29,"rep4":0.29},{"p":"c1","t":6.8,"rep1":0.28,"rep2":0.28,"rep3":0.29,"rep4":0.29},{"p":"c1","t":6.9,"rep1":0.28,"rep2":0.28,"rep3":0.28,"rep4":0.28},{"p":"c1","t":7.0,"rep1":0.28,"rep2":0.28,"rep3":0.28,"rep4":0.28},{"p":"c1","t":7.1,"rep1":0.29,"rep2":0.29,"rep3":0.29,"rep4":0.3},{"p":"c1","t":7.2,"rep1":0.45,"rep2":0.55,"rep3":0.65,"rep4":0.55},{"p":"c1","t":7.3,"rep1":1.02,"rep2":1.05,"rep3":1.05,"rep4":0.98},{"p":"c1","t":7.4,"rep1":0.82,"rep2":0.88,"rep3":0.9,"rep4":0.9},{"p":"c1","t":7.5,"rep1":0.65,"rep2":0.7,"rep3":0.73,"rep4":0.82},{"p":"c1","t":7.6,"rep1":0.55,"rep2":0.58,"rep3":0.61,"rep4":0.74},{"p":"c1","t":7.7,"rep1":0.5,"rep2":0.52,"rep3":0.5,"rep4":0.68},{"p":"c1","t":7.8,"rep1":0.48,"rep2":0.5,"rep3":0.48,"rep4":0.65},
{"p":"c2","t":0,"rep1":0.53,"rep2":0.48,"rep3":0.35,"rep4":0.33},{"p":"c2","t":0.1,"rep1":0.5,"rep2":0.46,"rep3":0.35,"rep4":0.32},{"p":"c2","t":0.2,"rep1":0.55,"rep2":0.58,"rep3":0.6,"rep4":0.62},{"p":"c2","t":0.25,"rep1":0.72,"rep2":0.85,"rep3":0.98,"rep4":0.95},{"p":"c2","t":0.3,"rep1":0.76,"rep2":0.92,"rep3":1.02,"rep4":1.02},{"p":"c2","t":0.4,"rep1":0.8,"rep2":0.94,"rep3":1.02,"rep4":0.97},{"p":"c2","t":0.5,"rep1":0.82,"rep2":0.93,"rep3":0.98,"rep4":0.91},{"p":"c2","t":0.6,"rep1":0.88,"rep2":0.92,"rep3":0.95,"rep4":0.87},{"p":"c2","t":0.7,"rep1":0.9,"rep2":0.9,"rep3":0.92,"rep4":0.8},{"p":"c2","t":0.8,"rep1":0.91,"rep2":0.89,"rep3":0.89,"rep4":0.76},{"p":"c2","t":0.9,"rep1":0.88,"rep2":0.87,"rep3":0.87,"rep4":0.72},{"p":"c2","t":1.0,"rep1":0.84,"rep2":0.84,"rep3":0.84,"rep4":0.68},{"p":"c2","t":1.1,"rep1":0.74,"rep2":0.75,"rep3":0.75,"rep4":0.62},{"p":"c2","t":1.2,"rep1":0.56,"rep2":0.55,"rep3":0.52,"rep4":0.45},{"p":"c2","t":1.3,"rep1":0.48,"rep2":0.47,"rep3":0.45,"rep4":0.33},{"p":"c2","t":1.4,"rep1":0.48,"rep2":0.46,"rep3":0.44,"rep4":0.33},{"p":"c2","t":1.5,"rep1":0.47,"rep2":0.46,"rep3":0.44,"rep4":0.33},{"p":"c2","t":1.6,"rep1":0.46,"rep2":0.45,"rep3":0.44,"rep4":0.35},{"p":"c2","t":1.7,"rep1":0.45,"rep2":0.45,"rep3":0.43,"rep4":0.35},{"p":"c2","t":1.8,"rep1":0.48,"rep2":0.47,"rep3":0.43,"rep4":0.35},{"p":"c2","t":1.9,"rep1":0.53,"rep2":0.5,"rep3":0.45,"rep4":0.35},{"p":"c2","t":2.0,"rep1":0.53,"rep2":0.5,"rep3":0.46,"rep4":0.34},{"p":"c2","t":2.1,"rep1":0.3,"rep2":0.3,"rep3":0.31,"rep4":0.23},{"p":"c2","t":2.2,"rep1":0.16,"rep2":0.16,"rep3":0.16,"rep4":0.16},{"p":"c2","t":2.3,"rep1":0.14,"rep2":0.13,"rep3":0.14,"rep4":0.12},{"p":"c2","t":2.4,"rep1":0.13,"rep2":0.13,"rep3":0.13,"rep4":0.13},{"p":"c2","t":2.5,"rep1":0.15,"rep2":0.15,"rep3":0.16,"rep4":0.17},{"p":"c2","t":2.6,"rep1":0.18,"rep2":0.18,"rep3":0.19,"rep4":0.21},{"p":"c2","t":2.7,"rep1":0.2,"rep2":0.21,"rep3":0.21,"rep4":0.23},{"p":"c2","t":2.8,"rep1":0.21,"rep2":0.23,"rep3":0.24,"rep4":0.25},{"p":"c2","t":2.9,"rep1":0.22,"rep2":0.27,"rep3":0.31,"rep4":0.28},{"p":"c2","t":3.0,"rep1":0.32,"rep2":0.35,"rep3":0.37,"rep4":0.31},{"p":"c2","t":3.1,"rep1":0.44,"rep2":0.43,"rep3":0.42,"rep4":0.37},{"p":"c2","t":3.2,"rep1":0.5,"rep2":0.49,"rep3":0.48,"rep4":0.42},{"p":"c2","t":3.3,"rep1":0.55,"rep2":0.54,"rep3":0.52,"rep4":0.46},{"p":"c2","t":3.4,"rep1":0.62,"rep2":0.58,"rep3":0.55,"rep4":0.47},{"p":"c2","t":3.5,"rep1":0.6,"rep2":0.57,"rep3":0.53,"rep4":0.48},{"p":"c2","t":3.6,"rep1":0.56,"rep2":0.55,"rep3":0.53,"rep4":0.47},{"p":"c2","t":3.7,"rep1":0.54,"rep2":0.53,"rep3":0.52,"rep4":0.45},{"p":"c2","t":3.8,"rep1":0.53,"rep2":0.52,"rep3":0.5,"rep4":0.44},{"p":"c2","t":3.9,"rep1":0.52,"rep2":0.5,"rep3":0.48,"rep4":0.42},{"p":"c2","t":4.0,"rep1":0.5,"rep2":0.49,"rep3":0.49,"rep4":0.43},{"p":"c2","t":4.05,"rep1":0.55,"rep2":0.58,"rep3":0.6,"rep4":0.6},{"p":"c2","t":4.1,"rep1":0.85,"rep2":0.86,"rep3":0.88,"rep4":0.85},{"p":"c2","t":4.15,"rep1":1.05,"rep2":1.06,"rep3":1.07,"rep4":1.07},{"p":"c2","t":4.2,"rep1":0.92,"rep2":0.95,"rep3":0.97,"rep4":0.95},{"p":"c2","t":4.3,"rep1":0.82,"rep2":0.83,"rep3":0.84,"rep4":0.82},{"p":"c2","t":4.4,"rep1":0.8,"rep2":0.8,"rep3":0.81,"rep4":0.78},{"p":"c2","t":4.5,"rep1":0.81,"rep2":0.8,"rep3":0.8,"rep4":0.78},{"p":"c2","t":4.6,"rep1":0.82,"rep2":0.82,"rep3":0.82,"rep4":0.79},{"p":"c2","t":4.7,"rep1":0.85,"rep2":0.84,"rep3":0.85,"rep4":0.79},{"p":"c2","t":4.8,"rep1":0.89,"rep2":0.86,"rep3":0.84,"rep4":0.78},{"p":"c2","t":4.9,"rep1":0.84,"rep2":0.84,"rep3":0.83,"rep4":0.77},{"p":"c2","t":5.0,"rep1":0.86,"rep2":0.84,"rep3":0.82,"rep4":0.76},{"p":"c2","t":5.1,"rep1":0.86,"rep2":0.83,"rep3":0.8,"rep4":0.73},{"p":"c2","t":5.2,"rep1":0.8,"rep2":0.78,"rep3":0.76,"rep4":0.6},{"p":"c2","t":5.3,"rep1":0.64,"rep2":0.61,"rep3":0.58,"rep4":0.44},{"p":"c2","t":5.4,"rep1":0.51,"rep2":0.48,"rep3":0.45,"rep4":0.32},{"p":"c2","t":5.5,"rep1":0.48,"rep2":0.45,"rep3":0.42,"rep4":0.27},{"p":"c2","t":5.6,"rep1":0.46,"rep2":0.43,"rep3":0.4,"rep4":0.25},{"p":"c2","t":5.7,"rep1":0.44,"rep2":0.42,"rep3":0.39,"rep4":0.24},{"p":"c2","t":5.8,"rep1":0.43,"rep2":0.41,"rep3":0.38,"rep4":0.24},{"p":"c2","t":5.9,"rep1":0.41,"rep2":0.39,"rep3":0.37,"rep4":0.23},{"p":"c2","t":6.0,"rep1":0.4,"rep2":0.38,"rep3":0.37,"rep4":0.23},{"p":"c2","t":6.1,"rep1":0.38,"rep2":0.36,"rep3":0.34,"rep4":0.22},{"p":"c2","t":6.2,"rep1":0.25,"rep2":0.27,"rep3":0.28,"rep4":0.26},{"p":"c2","t":6.3,"rep1":0.14,"rep2":0.15,"rep3":0.17,"rep4":0.35},{"p":"c2","t":6.4,"rep1":0.15,"rep2":0.15,"rep3":0.16,"rep4":0.34},{"p":"c2","t":6.5,"rep1":0.18,"rep2":0.18,"rep3":0.18,"rep4":0.33},{"p":"c2","t":6.6,"rep1":0.23,"rep2":0.22,"rep3":0.21,"rep4":0.35},{"p":"c2","t":6.7,"rep1":0.24,"rep2":0.24,"rep3":0.23,"rep4":0.37},{"p":"c2","t":6.8,"rep1":0.23,"rep2":0.26,"rep3":0.25,"rep4":0.4},{"p":"c2","t":6.9,"rep1":0.29,"rep2":0.31,"rep3":0.32,"rep4":0.43},{"p":"c2","t":7.0,"rep1":0.34,"rep2":0.37,"rep3":0.4,"rep4":0.47},{"p":"c2","t":7.1,"rep1":0.45,"rep2":0.48,"rep3":0.5,"rep4":0.52},{"p":"c2","t":7.2,"rep1":0.58,"rep2":0.59,"rep3":0.58,"rep4":0.58},{"p":"c2","t":7.3,"rep1":0.52,"rep2":0.51,"rep3":0.5,"rep4":0.48},{"p":"c2","t":7.4,"rep1":0.48,"rep2":0.46,"rep3":0.45,"rep4":0.38},{"p":"c2","t":7.5,"rep1":0.46,"rep2":0.44,"rep3":0.41,"rep4":0.32},{"p":"c2","t":7.6,"rep1":0.44,"rep2":0.41,"rep3":0.38,"rep4":0.3},{"p":"c2","t":7.7,"rep1":0.43,"rep2":0.39,"rep3":0.35,"rep4":0.28},{"p":"c2","t":7.8,"rep1":0.43,"rep2":0.38,"rep3":0.33,"rep4":0.28},
{"p":"c3","t":0,"rep1":0.27,"rep2":0.25,"rep3":0.23,"rep4":0.28},{"p":"c3","t":0.1,"rep1":0.35,"rep2":0.3,"rep3":0.24,"rep4":0.28},{"p":"c3","t":0.2,"rep1":0.32,"rep2":0.28,"rep3":0.25,"rep4":0.27},{"p":"c3","t":0.3,"rep1":0.33,"rep2":0.27,"rep3":0.24,"rep4":0.26},{"p":"c3","t":0.4,"rep1":0.4,"rep2":0.28,"rep3":0.23,"rep4":0.26},{"p":"c3","t":0.5,"rep1":0.57,"rep2":0.26,"rep3":0.24,"rep4":0.3},{"p":"c3","t":0.6,"rep1":0.63,"rep2":0.27,"rep3":0.25,"rep4":0.33},{"p":"c3","t":0.7,"rep1":0.5,"rep2":0.3,"rep3":0.25,"rep4":0.37},{"p":"c3","t":0.8,"rep1":0.29,"rep2":0.28,"rep3":0.25,"rep4":0.35},{"p":"c3","t":0.9,"rep1":0.22,"rep2":0.24,"rep3":0.24,"rep4":0.37},{"p":"c3","t":1.0,"rep1":0.21,"rep2":0.22,"rep3":0.21,"rep4":0.4},{"p":"c3","t":1.1,"rep1":0.35,"rep2":0.38,"rep3":0.36,"rep4":0.62},{"p":"c3","t":1.2,"rep1":0.67,"rep2":0.66,"rep3":0.62,"rep4":0.83},{"p":"c3","t":1.3,"rep1":0.81,"rep2":0.7,"rep3":0.8,"rep4":0.88},{"p":"c3","t":1.4,"rep1":0.76,"rep2":0.7,"rep3":0.68,"rep4":0.75},{"p":"c3","t":1.5,"rep1":0.66,"rep2":0.63,"rep3":0.67,"rep4":0.63},{"p":"c3","t":1.6,"rep1":0.52,"rep2":0.52,"rep3":0.55,"rep4":0.52},{"p":"c3","t":1.7,"rep1":0.41,"rep2":0.4,"rep3":0.42,"rep4":0.43},{"p":"c3","t":1.8,"rep1":0.37,"rep2":0.35,"rep3":0.36,"rep4":0.37},{"p":"c3","t":1.9,"rep1":0.34,"rep2":0.33,"rep3":0.34,"rep4":0.35},{"p":"c3","t":2.0,"rep1":0.3,"rep2":0.3,"rep3":0.31,"rep4":0.33},{"p":"c3","t":2.1,"rep1":0.38,"rep2":0.5,"rep3":0.58,"rep4":0.55},{"p":"c3","t":2.2,"rep1":0.74,"rep2":0.7,"rep3":0.72,"rep4":0.72},{"p":"c3","t":2.3,"rep1":0.6,"rep2":0.55,"rep3":0.52,"rep4":0.55},{"p":"c3","t":2.4,"rep1":0.4,"rep2":0.36,"rep3":0.33,"rep4":0.4},{"p":"c3","t":2.5,"rep1":0.32,"rep2":0.27,"rep3":0.25,"rep4":0.31},{"p":"c3","t":2.6,"rep1":0.27,"rep2":0.24,"rep3":0.22,"rep4":0.27},{"p":"c3","t":2.7,"rep1":0.22,"rep2":0.24,"rep3":0.23,"rep4":0.22},{"p":"c3","t":2.8,"rep1":0.24,"rep2":0.25,"rep3":0.23,"rep4":0.2},{"p":"c3","t":2.9,"rep1":0.26,"rep2":0.26,"rep3":0.22,"rep4":0.19},{"p":"c3","t":3.0,"rep1":0.27,"rep2":0.25,"rep3":0.22,"rep4":0.19},{"p":"c3","t":3.1,"rep1":0.26,"rep2":0.24,"rep3":0.22,"rep4":0.21},{"p":"c3","t":3.2,"rep1":0.25,"rep2":0.25,"rep3":0.23,"rep4":0.23},{"p":"c3","t":3.3,"rep1":0.3,"rep2":0.24,"rep3":0.22,"rep4":0.22},{"p":"c3","t":3.4,"rep1":0.36,"rep2":0.26,"rep3":0.22,"rep4":0.23},{"p":"c3","t":3.5,"rep1":0.42,"rep2":0.28,"rep3":0.23,"rep4":0.24},{"p":"c3","t":3.6,"rep1":0.34,"rep2":0.27,"rep3":0.24,"rep4":0.25},{"p":"c3","t":3.7,"rep1":0.32,"rep2":0.28,"rep3":0.25,"rep4":0.27},{"p":"c3","t":3.8,"rep1":0.3,"rep2":0.26,"rep3":0.24,"rep4":0.26},{"p":"c3","t":3.9,"rep1":0.25,"rep2":0.25,"rep3":0.23,"rep4":0.24},{"p":"c3","t":4.0,"rep1":0.27,"rep2":0.28,"rep3":0.29,"rep4":0.3},{"p":"c3","t":4.05,"rep1":0.38,"rep2":0.33,"rep3":0.33,"rep4":0.33},{"p":"c3","t":4.1,"rep1":0.45,"rep2":0.38,"rep3":0.36,"rep4":0.35},{"p":"c3","t":4.15,"rep1":0.53,"rep2":0.42,"rep3":0.38,"rep4":0.36},{"p":"c3","t":4.2,"rep1":0.45,"rep2":0.35,"rep3":0.31,"rep4":0.38},{"p":"c3","t":4.3,"rep1":0.36,"rep2":0.3,"rep3":0.28,"rep4":0.39},{"p":"c3","t":4.4,"rep1":0.33,"rep2":0.29,"rep3":0.27,"rep4":0.43},{"p":"c3","t":4.5,"rep1":0.45,"rep2":0.4,"rep3":0.45,"rep4":0.52},{"p":"c3","t":4.6,"rep1":1.05,"rep2":0.9,"rep3":0.95,"rep4":0.75},{"p":"c3","t":4.7,"rep1":0.95,"rep2":1.1,"rep3":1.12,"rep4":0.72},{"p":"c3","t":4.8,"rep1":0.5,"rep2":0.9,"rep3":1.06,"rep4":0.62},{"p":"c3","t":4.9,"rep1":0.37,"rep2":0.5,"rep3":0.62,"rep4":0.5},{"p":"c3","t":5.0,"rep1":0.34,"rep2":0.36,"rep3":0.37,"rep4":0.42},{"p":"c3","t":5.1,"rep1":0.4,"rep2":0.35,"rep3":0.34,"rep4":0.38},{"p":"c3","t":5.2,"rep1":0.6,"rep2":0.55,"rep3":0.7,"rep4":0.75},{"p":"c3","t":5.3,"rep1":0.77,"rep2":0.98,"rep3":0.81,"rep4":1.08},{"p":"c3","t":5.4,"rep1":0.64,"rep2":0.85,"rep3":0.72,"rep4":0.95},{"p":"c3","t":5.5,"rep1":0.57,"rep2":0.62,"rep3":0.58,"rep4":0.73},{"p":"c3","t":5.6,"rep1":0.52,"rep2":0.55,"rep3":0.52,"rep4":0.6},{"p":"c3","t":5.7,"rep1":0.42,"rep2":0.47,"rep3":0.45,"rep4":0.53},{"p":"c3","t":5.8,"rep1":0.38,"rep2":0.42,"rep3":0.4,"rep4":0.47},{"p":"c3","t":5.9,"rep1":0.37,"rep2":0.38,"rep3":0.37,"rep4":0.44},{"p":"c3","t":6.0,"rep1":0.31,"rep2":0.35,"rep3":0.35,"rep4":0.39},{"p":"c3","t":6.1,"rep1":0.25,"rep2":0.31,"rep3":0.32,"rep4":0.37},{"p":"c3","t":6.2,"rep1":0.2,"rep2":0.25,"rep3":0.27,"rep4":0.32},{"p":"c3","t":6.3,"rep1":0.18,"rep2":0.19,"rep3":0.2,"rep4":0.27},{"p":"c3","t":6.4,"rep1":0.17,"rep2":0.17,"rep3":0.17,"rep4":0.2},{"p":"c3","t":6.5,"rep1":0.18,"rep2":0.18,"rep3":0.18,"rep4":0.17},{"p":"c3","t":6.6,"rep1":0.22,"rep2":0.2,"rep3":0.22,"rep4":0.18},{"p":"c3","t":6.7,"rep1":0.35,"rep2":0.28,"rep3":0.27,"rep4":0.27},{"p":"c3","t":6.8,"rep1":0.48,"rep2":0.4,"rep3":0.36,"rep4":0.37},{"p":"c3","t":6.9,"rep1":0.66,"rep2":0.52,"rep3":0.43,"rep4":0.39},{"p":"c3","t":7.0,"rep1":0.45,"rep2":0.47,"rep3":0.48,"rep4":0.44},{"p":"c3","t":7.1,"rep1":0.3,"rep2":0.42,"rep3":0.52,"rep4":0.57},{"p":"c3","t":7.2,"rep1":0.27,"rep2":0.5,"rep3":0.6,"rep4":0.7},{"p":"c3","t":7.3,"rep1":0.26,"rep2":0.4,"rep3":0.45,"rep4":0.6},{"p":"c3","t":7.4,"rep1":0.25,"rep2":0.32,"rep3":0.36,"rep4":0.45},{"p":"c3","t":7.5,"rep1":0.25,"rep2":0.28,"rep3":0.29,"rep4":0.36},{"p":"c3","t":7.6,"rep1":0.25,"rep2":0.26,"rep3":0.26,"rep4":0.32},{"p":"c3","t":7.7,"rep1":0.25,"rep2":0.25,"rep3":0.25,"rep4":0.28},{"p":"c3","t":7.8,"rep1":0.25,"rep2":0.25,"rep3":0.25,"rep4":0.27}
]
},
"spacing":5,
"resolve":{"scale":{"color":"independent","size":"independent"}},
"hconcat":[
{"vconcat":[
 {"width":180,"height":242,
  "layer":[
   {"data":{"name":"laser"},"transform":[{"filter":"datum.row==1"}],"mark":{"type":"point","shape":"square","filled":true,"color":"#ff8080","opacity":1},"encoding":{"x":{"datum":0,"type":"quantitative","scale":{"domain":[-311.1,355.6],"nice":false,"zero":false}},"y":{"datum":0,"type":"quantitative","scale":{"domain":[-285.2,611.1],"nice":false,"zero":false}},"size":{"field":"um","type":"quantitative","scale":{"type":"pow","exponent":2,"domain":[0,480],"range":[0,16796]}}}},
   {"data":{"name":"rings"},"transform":[{"filter":"datum.row==1"}],"mark":{"type":"point","shape":"circle","filled":false,"color":"#333333","strokeWidth":1.3,"opacity":1},"encoding":{"x":{"datum":0,"type":"quantitative","scale":{"domain":[-311.1,355.6],"nice":false,"zero":false}},"y":{"datum":0,"type":"quantitative","scale":{"domain":[-285.2,611.1],"nice":false,"zero":false}},"size":{"field":"um","type":"quantitative","scale":{"type":"pow","exponent":2,"domain":[0,480],"range":[0,16796]}}}},
   {"data":{"name":"leaders"},"mark":{"type":"rule","strokeWidth":1.2},"encoding":{"x":{"field":"x","type":"quantitative","scale":{"domain":[-311.1,355.6],"nice":false,"zero":false}},"y":{"field":"y","type":"quantitative","scale":{"domain":[-285.2,611.1],"nice":false,"zero":false}},"x2":{"field":"x2"},"y2":{"field":"y2"},"color":{"field":"kind","type":"nominal","scale":{"domain":["label","laser"],"range":["#222222","#ff4d4d"]}}}},
   {"data":{"name":"notes"},"mark":{"type":"text","fontSize":17,"align":"center","baseline":"alphabetic"},"encoding":{"x":{"field":"x","type":"quantitative","scale":{"domain":[-311.1,355.6],"nice":false,"zero":false}},"y":{"field":"y","type":"quantitative","scale":{"domain":[-285.2,611.1],"nice":false,"zero":false}},"text":{"field":"text"},"color":{"field":"kind","type":"nominal","scale":{"domain":["label","laser"],"range":["#222222","#ff4d4d"]}}}},
   {"data":{"values":[{"panel":"a","x":-239,"y":502}]},"mark":{"type":"text","fontSize":26,"fontWeight":"bold","align":"center","baseline":"alphabetic","color":"#111111"},"encoding":{"x":{"field":"x","type":"quantitative","scale":{"domain":[-311.1,355.6],"nice":false,"zero":false}},"y":{"field":"y","type":"quantitative","scale":{"domain":[-285.2,611.1],"nice":false,"zero":false}},"text":{"field":"panel"}}}
  ]},
 {"width":180,"height":153,
  "layer":[
   {"data":{"name":"laser"},"transform":[{"filter":"datum.row==2"}],"mark":{"type":"point","shape":"square","filled":true,"color":"#ff8a8a","opacity":1},"encoding":{"x":{"datum":0,"type":"quantitative","scale":{"domain":[-311.1,355.6],"nice":false,"zero":false}},"y":{"datum":0,"type":"quantitative","scale":{"domain":[-285.2,281.5],"nice":false,"zero":false}},"size":{"field":"um","type":"quantitative","scale":{"type":"pow","exponent":2,"domain":[0,480],"range":[0,16796]}}}},
   {"data":{"name":"rings"},"transform":[{"filter":"datum.row==2"}],"mark":{"type":"point","shape":"circle","filled":false,"color":"#333333","strokeWidth":1.3,"opacity":1},"encoding":{"x":{"datum":0,"type":"quantitative","scale":{"domain":[-311.1,355.6],"nice":false,"zero":false}},"y":{"datum":0,"type":"quantitative","scale":{"domain":[-285.2,281.5],"nice":false,"zero":false}},"size":{"field":"um","type":"quantitative","scale":{"type":"pow","exponent":2,"domain":[0,480],"range":[0,16796]}}}}
  ]},
 {"width":180,"height":153,
  "layer":[
   {"data":{"name":"laser"},"transform":[{"filter":"datum.row==3"}],"mark":{"type":"point","shape":"square","filled":true,"color":"#ff8a8a","opacity":1},"encoding":{"x":{"datum":0,"type":"quantitative","scale":{"domain":[-311.1,355.6],"nice":false,"zero":false}},"y":{"datum":0,"type":"quantitative","scale":{"domain":[-285.2,281.5],"nice":false,"zero":false}},"size":{"field":"um","type":"quantitative","scale":{"type":"pow","exponent":2,"domain":[0,480],"range":[0,16796]}}}},
   {"data":{"name":"rings"},"transform":[{"filter":"datum.row==3"}],"mark":{"type":"point","shape":"circle","filled":false,"color":"#333333","strokeWidth":1.3,"opacity":1},"encoding":{"x":{"datum":0,"type":"quantitative","scale":{"domain":[-311.1,355.6],"nice":false,"zero":false}},"y":{"datum":0,"type":"quantitative","scale":{"domain":[-285.2,281.5],"nice":false,"zero":false}},"size":{"field":"um","type":"quantitative","scale":{"type":"pow","exponent":2,"domain":[0,480],"range":[0,16796]}}}}
  ]},
 {"width":180,"height":142,
  "layer":[
   {"data":{"name":"laser"},"transform":[{"filter":"datum.row==4"}],"mark":{"type":"point","shape":"square","filled":true,"color":"#ff8a8a","opacity":1},"encoding":{"x":{"datum":0,"type":"quantitative","scale":{"domain":[-311.1,355.6],"nice":false,"zero":false}},"y":{"datum":0,"type":"quantitative","scale":{"domain":[-240.7,285.2],"nice":false,"zero":false}},"size":{"field":"um","type":"quantitative","scale":{"type":"pow","exponent":2,"domain":[0,480],"range":[0,16796]}}}},
   {"data":{"name":"rings"},"transform":[{"filter":"datum.row==4"}],"mark":{"type":"point","shape":"circle","filled":false,"color":"#333333","strokeWidth":1.3,"opacity":1},"encoding":{"x":{"datum":0,"type":"quantitative","scale":{"domain":[-311.1,355.6],"nice":false,"zero":false}},"y":{"datum":0,"type":"quantitative","scale":{"domain":[-240.7,285.2],"nice":false,"zero":false}},"size":{"field":"um","type":"quantitative","scale":{"type":"pow","exponent":2,"domain":[0,480],"range":[0,16796]}}}}
  ]}
 ],"spacing":0,"bounds":"flush","resolve":{"scale":{"color":"independent","size":"independent"}}},
{"hconcat":[
{"vconcat":[
 {"width":261,"height":100,
  "encoding":{"x":{"field":"t","type":"quantitative","scale":{"domain":[0,8.08],"nice":false,"zero":false}}},
  "layer":[
   {"data":{"name":"step"},"mark":{"type":"line","interpolate":"step-after","color":"#222222","strokeWidth":1.6},"encoding":{"y":{"field":"s","type":"quantitative","scale":{"domain":[-0.737,4.526],"nice":false,"zero":false}},"order":{"field":"i","type":"quantitative"}}},
   {"data":{"name":"icons"},"mark":{"type":"point","shape":"circle","filled":true,"opacity":1,"strokeWidth":0},"encoding":{"y":{"datum":2.26,"type":"quantitative","scale":{"domain":[-0.737,4.526],"nice":false,"zero":false}},"color":{"field":"led","type":"nominal","scale":{"domain":["Green","UV"],"range":["#00a000","#c400c4"]}},"size":{"field":"stim","type":"ordinal","scale":{"domain":["spot","annulus"],"range":[90,1200]}}}},
   {"data":{"name":"icons"},"transform":[{"filter":"datum.stim=='annulus'"}],"mark":{"type":"point","shape":"circle","filled":true,"opacity":1,"color":"#ffffff","size":64,"strokeWidth":0},"encoding":{"y":{"datum":2.26,"type":"quantitative","scale":{"domain":[-0.737,4.526],"nice":false,"zero":false}}}},
   {"data":{"values":[{"t":7.52,"label":"1 s"}]},"mark":{"type":"text","fontSize":12,"align":"center","baseline":"alphabetic","color":"#111111"},"encoding":{"y":{"datum":-0.71,"type":"quantitative","scale":{"domain":[-0.737,4.526],"nice":false,"zero":false}},"text":{"field":"label"}}}
  ]},
 {"width":261,"height":145,
  "encoding":{"x":{"field":"t","type":"quantitative","scale":{"domain":[0,8.08],"nice":false,"zero":false}}},
  "layer":[
   {"data":{"name":"bands"},"mark":{"type":"rect","color":"#fdfce4"},"encoding":{"x2":{"field":"t2"}}},
   {"data":{"name":"pa"},"transform":[{"filter":"datum.r==1"}],"mark":{"type":"area","color":"#c8c8c8"},"encoding":{"y":{"field":"lo","type":"quantitative","scale":{"domain":[0,1.45],"nice":false,"zero":false}},"y2":{"field":"hi"}}},
   {"data":{"name":"pa"},"transform":[{"filter":"datum.r==1"}],"mark":{"type":"line","color":"#700808","strokeWidth":1.8},"encoding":{"y":{"field":"m","type":"quantitative","scale":{"domain":[0,1.45],"nice":false,"zero":false}}}}
  ]},
 {"width":261,"height":145,
  "encoding":{"x":{"field":"t","type":"quantitative","scale":{"domain":[0,8.08],"nice":false,"zero":false}}},
  "layer":[
   {"data":{"name":"bands"},"mark":{"type":"rect","color":"#fdfce4"},"encoding":{"x2":{"field":"t2"}}},
   {"data":{"name":"pa"},"transform":[{"filter":"datum.r==2"}],"mark":{"type":"area","color":"#c8c8c8"},"encoding":{"y":{"field":"lo","type":"quantitative","scale":{"domain":[0,1.45],"nice":false,"zero":false}},"y2":{"field":"hi"}}},
   {"data":{"name":"pa"},"transform":[{"filter":"datum.r==2"}],"mark":{"type":"line","color":"#cc1010","strokeWidth":1.8},"encoding":{"y":{"field":"m","type":"quantitative","scale":{"domain":[0,1.45],"nice":false,"zero":false}}}}
  ]},
 {"width":261,"height":145,
  "encoding":{"x":{"field":"t","type":"quantitative","scale":{"domain":[0,8.08],"nice":false,"zero":false}}},
  "layer":[
   {"data":{"name":"bands"},"mark":{"type":"rect","color":"#fdfce4"},"encoding":{"x2":{"field":"t2"}}},
   {"data":{"name":"pa"},"transform":[{"filter":"datum.r==3"}],"mark":{"type":"area","color":"#c8c8c8"},"encoding":{"y":{"field":"lo","type":"quantitative","scale":{"domain":[0,1.45],"nice":false,"zero":false}},"y2":{"field":"hi"}}},
   {"data":{"name":"pa"},"transform":[{"filter":"datum.r==3"}],"mark":{"type":"line","color":"#f23a3a","strokeWidth":1.8},"encoding":{"y":{"field":"m","type":"quantitative","scale":{"domain":[0,1.45],"nice":false,"zero":false}}}}
  ]},
 {"width":261,"height":145,
  "encoding":{"x":{"field":"t","type":"quantitative","scale":{"domain":[0,8.08],"nice":false,"zero":false}}},
  "layer":[
   {"data":{"name":"bands"},"mark":{"type":"rect","color":"#fdfce4"},"encoding":{"x2":{"field":"t2"}}},
   {"data":{"name":"pa"},"transform":[{"filter":"datum.r==4"}],"mark":{"type":"area","color":"#c8c8c8"},"encoding":{"y":{"field":"lo","type":"quantitative","scale":{"domain":[0,1.45],"nice":false,"zero":false}},"y2":{"field":"hi"}}},
   {"data":{"name":"pa"},"transform":[{"filter":"datum.r==4"}],"mark":{"type":"line","color":"#f66a6a","strokeWidth":1.8},"encoding":{"y":{"field":"m","type":"quantitative","scale":{"domain":[0,1.45],"nice":false,"zero":false}}}}
  ]}
 ],"spacing":0,"bounds":"flush","resolve":{"scale":{"color":"independent","size":"independent"}}},
{"vconcat":[
 {"width":274,"height":100,
  "encoding":{"x":{"field":"t","type":"quantitative","scale":{"domain":[-0.743,7.74],"nice":false,"zero":false}}},
  "layer":[
   {"data":{"name":"step"},"mark":{"type":"line","interpolate":"step-after","color":"#222222","strokeWidth":1.6,"clip":true},"encoding":{"y":{"field":"s","type":"quantitative","scale":{"domain":[-0.737,4.526],"nice":false,"zero":false}},"order":{"field":"i","type":"quantitative"}}},
   {"data":{"name":"icons"},"mark":{"type":"point","shape":"circle","filled":true,"opacity":1,"strokeWidth":0},"encoding":{"y":{"datum":2.26,"type":"quantitative","scale":{"domain":[-0.737,4.526],"nice":false,"zero":false}},"color":{"field":"led","type":"nominal","scale":{"domain":["Green","UV"],"range":["#00a000","#c400c4"]}},"size":{"field":"stim","type":"ordinal","scale":{"domain":["spot","annulus"],"range":[90,1200]}}}},
   {"data":{"name":"icons"},"transform":[{"filter":"datum.stim=='annulus'"}],"mark":{"type":"point","shape":"circle","filled":true,"opacity":1,"color":"#ffffff","size":64,"strokeWidth":0},"encoding":{"y":{"datum":2.26,"type":"quantitative","scale":{"domain":[-0.737,4.526],"nice":false,"zero":false}}}},
   {"data":{"values":[{"t":7.52,"label":"1 s"}]},"mark":{"type":"text","fontSize":12,"align":"center","baseline":"alphabetic","color":"#111111","clip":true},"encoding":{"y":{"datum":-0.71,"type":"quantitative","scale":{"domain":[-0.737,4.526],"nice":false,"zero":false}},"text":{"field":"label"}}},
   {"data":{"values":[{"t":-0.743,"s":3.05,"panel":"b"}]},"mark":{"type":"text","fontSize":26,"fontWeight":"bold","align":"left","baseline":"alphabetic","color":"#111111"},"encoding":{"y":{"field":"s","type":"quantitative","scale":{"domain":[-0.737,4.526],"nice":false,"zero":false}},"text":{"field":"panel"}}}
  ]},
 {"width":274,"height":140,
  "encoding":{"x":{"field":"t","type":"quantitative","scale":{"domain":[-0.743,7.74],"nice":false,"zero":false}}},
  "layer":[
   {"data":{"name":"bands"},"mark":{"type":"rect","color":"#fdfce4"},"encoding":{"x2":{"field":"t2"}}},
   {"data":{"name":"pb"},"transform":[{"fold":["rep1","rep2","rep3","rep4"],"as":["rep","v"]}],"mark":{"type":"line","strokeWidth":2.1,"clip":true},"encoding":{"y":{"field":"v","type":"quantitative","scale":{"domain":[0,1.4],"nice":false,"zero":false}},"color":{"field":"rep","type":"nominal","scale":{"domain":["rep1","rep2","rep3","rep4"],"range":["#5c0a0a","#a80d0d","#ee1111","#ff7a7a"]}}}}
  ]},
 {"width":274,"height":145,
  "encoding":{"x":{"field":"t","type":"quantitative","scale":{"domain":[-0.743,7.74],"nice":false,"zero":false}}},
  "layer":[
   {"data":{"name":"bands"},"mark":{"type":"rect","color":"#fdfce4"},"encoding":{"x2":{"field":"t2"}}},
   {"data":{"name":"pc"},"transform":[{"filter":"datum.p=='c1'"},{"fold":["rep1","rep2","rep3","rep4"],"as":["rep","v"]}],"mark":{"type":"line","strokeWidth":2.1,"clip":true},"encoding":{"y":{"field":"v","type":"quantitative","scale":{"domain":[0,1.45],"nice":false,"zero":false}},"color":{"field":"rep","type":"nominal","scale":{"domain":["rep1","rep2","rep3","rep4"],"range":["#5c0a0a","#a80d0d","#ee1111","#ff7a7a"]}}}},
   {"data":{"values":[{"t":-0.743,"v":1.2,"panel":"c"}]},"mark":{"type":"text","fontSize":26,"fontWeight":"bold","align":"left","baseline":"alphabetic","color":"#111111"},"encoding":{"y":{"field":"v","type":"quantitative","scale":{"domain":[0,1.45],"nice":false,"zero":false}},"text":{"field":"panel"}}}
  ]},
 {"width":274,"height":145,
  "encoding":{"x":{"field":"t","type":"quantitative","scale":{"domain":[-0.743,7.74],"nice":false,"zero":false}}},
  "layer":[
   {"data":{"name":"bands"},"mark":{"type":"rect","color":"#fdfce4"},"encoding":{"x2":{"field":"t2"}}},
   {"data":{"name":"pc"},"transform":[{"filter":"datum.p=='c2'"},{"fold":["rep1","rep2","rep3","rep4"],"as":["rep","v"]}],"mark":{"type":"line","strokeWidth":2.1,"clip":true},"encoding":{"y":{"field":"v","type":"quantitative","scale":{"domain":[0,1.45],"nice":false,"zero":false}},"color":{"field":"rep","type":"nominal","scale":{"domain":["rep1","rep2","rep3","rep4"],"range":["#5c0a0a","#a80d0d","#ee1111","#ff7a7a"]}}}}
  ]},
 {"width":274,"height":150,
  "encoding":{"x":{"field":"t","type":"quantitative","scale":{"domain":[-0.743,7.74],"nice":false,"zero":false}}},
  "layer":[
   {"data":{"name":"bands"},"mark":{"type":"rect","color":"#fdfce4"},"encoding":{"x2":{"field":"t2"}}},
   {"data":{"name":"pc"},"transform":[{"filter":"datum.p=='c3'"},{"fold":["rep1","rep2","rep3","rep4"],"as":["rep","v"]}],"mark":{"type":"line","strokeWidth":2.1,"clip":true},"encoding":{"y":{"field":"v","type":"quantitative","scale":{"domain":[0,1.5],"nice":false,"zero":false}},"color":{"field":"rep","type":"nominal","scale":{"domain":["rep1","rep2","rep3","rep4"],"range":["#5c0a0a","#a80d0d","#ee1111","#ff7a7a"]}}}}
  ]}
 ],"spacing":0,"bounds":"flush","resolve":{"scale":{"color":"independent","size":"independent"}}}
],"spacing":28,"resolve":{"scale":{"color":"independent","size":"independent"}}}
]
}
